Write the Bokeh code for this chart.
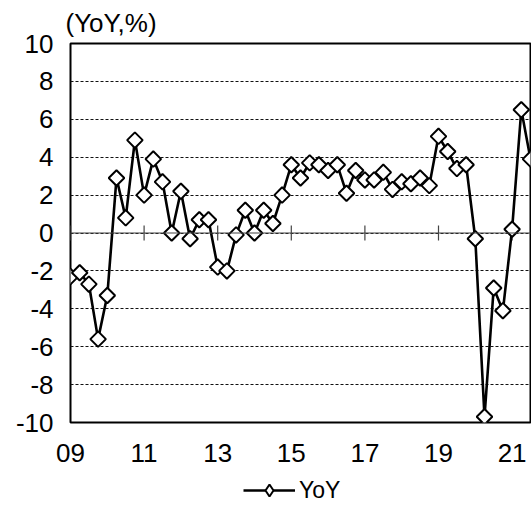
import math
from bokeh.plotting import figure
from bokeh.layouts import column
from bokeh.models import FixedTicker, Span, Legend, LegendItem, ColumnDataSource
from bokeh.embed import file_html
from bokeh.resources import INLINE

# Quarterly YoY (%) from 2009Q1 to 2021Q3
periods = [f"{y}Q{q}" for y in range(2009, 2022) for q in range(1, 5)][:51]
yoy = [-2.3, -2.1, -2.7, -5.6, -3.3, 2.9, 0.8, 4.9, 2.0, 3.9, 2.7, 0.0,
       2.2, -0.3, 0.7, 0.7, -1.8, -2.0, -0.1, 1.2, 0.0, 1.2, 0.5, 2.0,
       3.6, 2.9, 3.7, 3.6, 3.3, 3.6, 2.1, 3.3, 2.8, 2.8, 3.2, 2.3,
       2.7, 2.6, 2.9, 2.5, 5.1, 4.3, 3.4, 3.6, -0.3, -9.7, -2.9, -4.1,
       0.2, 6.5, 3.9]
x_tick_labels = ["09", "11", "13", "15", "17", "19", "21"]
x_tick_periods = ["2009Q1", "2011Q1", "2013Q1", "2015Q1", "2017Q1", "2019Q1", "2021Q1"]
y_ticks = [-10, -8, -6, -4, -2, 0, 2, 4, 6, 8, 10]
series_name = "YoY"

idx = list(range(len(yoy)))
src = ColumnDataSource(dict(x=idx, y=yoy, period=periods))
tick_pos = [periods.index(p) for p in x_tick_periods]

FONT = "Liberation Sans"
LINE_W = 2.6
MK_SIZE = 11

p = figure(width=531, height=475, output_backend="svg", toolbar_location=None,
           x_range=(0, len(yoy) - 1), y_range=(-10, 10),
           min_border_left=70, min_border_right=1, min_border_top=40,
           min_border_bottom=53, title="(YoY,%)")
p.background_fill_color = "white"
p.border_fill_color = "white"
p.outline_line_color = "black"
p.outline_line_width = 2

p.title.text_font = FONT
p.title.text_font_size = "26px"
p.title.text_font_style = "normal"
p.title.text_color = "black"
p.title.align = "left"
p.title.offset = -5
p.title.standoff = 11

# axes
p.xaxis.ticker = FixedTicker(ticks=tick_pos)
p.xaxis.major_label_overrides = {t: l for t, l in zip(tick_pos, x_tick_labels)}
p.yaxis.ticker = FixedTicker(ticks=y_ticks)
p.yaxis.major_label_overrides = {t: str(t) for t in y_ticks}
for ax in (p.xaxis, p.yaxis):
    ax.axis_line_color = None
    ax.major_tick_line_color = None
    ax.minor_tick_line_color = None
    ax.major_tick_out = 0
    ax.major_tick_in = 0
    ax.major_label_text_font = FONT
    ax.major_label_text_font_size = "26px"
    ax.major_label_text_color = "black"
p.yaxis.major_label_standoff = 17
p.xaxis.major_label_standoff = 21

p.xgrid.grid_line_color = None
p.ygrid.grid_line_color = "#111111"
p.ygrid.grid_line_dash = "3 2"
p.ygrid.grid_line_width = 1

zero = Span(location=0, dimension="width", line_color="#444444", line_width=1.2)
p.add_layout(zero)

# tick marks on the zero line
p.segment(x0=tick_pos, x1=tick_pos, y0=[-0.4] * len(tick_pos), y1=[0.4] * len(tick_pos),
          line_color="#444444", line_width=1.2)

p.line("x", "y", source=src, line_color="black", line_width=LINE_W)
p.scatter("x", "y", source=src, marker="square", angle=math.pi / 4, size=MK_SIZE,
          fill_color="white", line_color="black", line_width=2)

# legend strip below the chart
lg = figure(width=531, height=30, output_backend="svg", toolbar_location=None,
            x_range=(0, 1), y_range=(0, 1), x_axis_type=None, y_axis_type=None,
            min_border_left=0, min_border_right=0, min_border_top=0, min_border_bottom=0)
lg.outline_line_color = None
lg.grid.grid_line_color = None
lg.background_fill_color = "white"
lg.border_fill_color = "white"
dummy = ColumnDataSource(dict(x=[-5, -4], y=[-5, -4]))
lr = lg.line("x", "y", source=dummy, line_color="black", line_width=LINE_W)
sr = lg.scatter("x", "y", source=dummy, marker="diamond", size=MK_SIZE,
                fill_color="white", line_color="black", line_width=2)
legend = Legend(items=[LegendItem(label=series_name, renderers=[lr, sr])],
                location=(173, 0), orientation="horizontal",
                border_line_color=None, background_fill_alpha=0,
                glyph_width=52, glyph_height=30, label_text_font=FONT,
                label_text_font_size="23px", label_text_color="black",
                padding=0, margin=0, label_standoff=4)
lg.add_layout(legend)

layout = column(p, lg, spacing=0)
open("out.html", "w").write(file_html(layout, INLINE))
